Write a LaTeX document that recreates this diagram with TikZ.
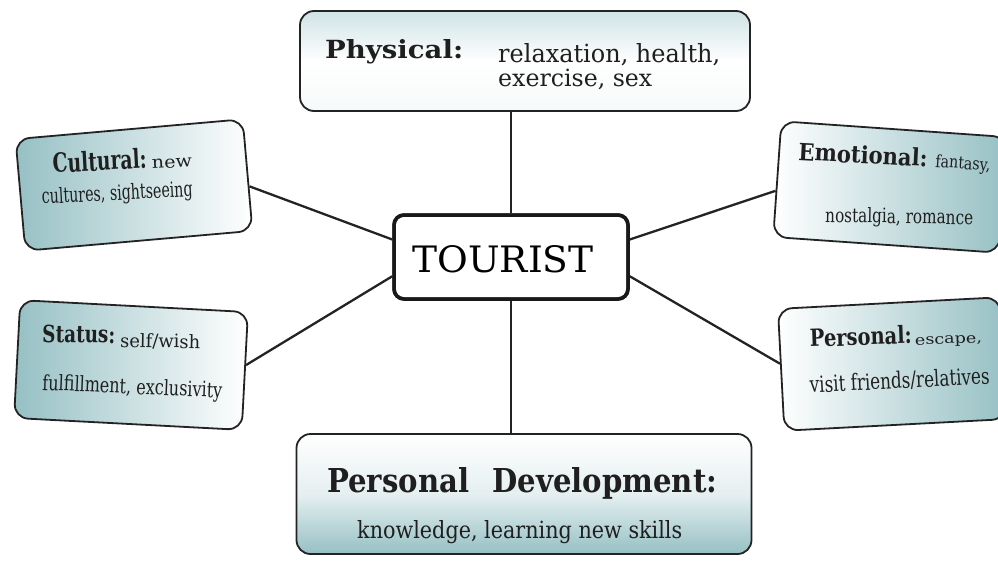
\documentclass[tikz,border=0pt]{standalone}
\usepackage{fontspec}
\setmainfont{DejaVu Serif}
\usetikzlibrary{calc}
\definecolor{tealsh}{RGB}{150,192,196}
\definecolor{edgec}{RGB}{35,35,35}
\newcommand{\fitw}[3]{\resizebox{#1pt}{#2pt}{\vphantom{l}#3}}
\begin{document}
\begin{tikzpicture}[x=1pt,y=-1pt,
  box/.style={draw=edgec, line width=1.8pt, rounded corners=14pt, inner sep=0pt},
  lbl/.style={anchor=base west, inner sep=0pt, text=black!88},
  link/.style={draw=edgec, line width=2.3pt}]
\useasboundingbox (0,0) rectangle (998,560);
% boxes
\node[box, minimum width=450pt, minimum height=100pt, top color=tealsh!45, bottom color=white!92!tealsh, middle color=white] (phys) at (525,61) {};
\node[box, minimum width=455pt, minimum height=120pt, top color=white, bottom color=tealsh, middle color=white!75!tealsh] (pd) at (524,494) {};
\node[box, minimum width=228pt, minimum height=112pt, rotate=5, left color=tealsh, right color=white] (cult) at (134,185) {};
\node[box, minimum width=228pt, minimum height=118pt, rotate=-3, left color=tealsh, right color=white] (stat) at (131,365) {};
\node[box, minimum width=226pt, minimum height=116pt, rotate=-4, left color=white, right color=tealsh] (emo) at (890,187) {};
\node[box, minimum width=222pt, minimum height=122pt, rotate=3, left color=white, right color=tealsh] (pers) at (892,364) {};
\node[draw=black!90, line width=3.5pt, rounded corners=10pt, fill=white, minimum width=234pt, minimum height=84pt, inner sep=0pt] (tour) at (511,257) {};
% connectors
\coordinate (tw1) at ($(tour.north west)!0.3!(tour.south west)$);
\coordinate (tw2) at ($(tour.north west)!0.72!(tour.south west)$);
\coordinate (te1) at ($(tour.north east)!0.3!(tour.south east)$);
\coordinate (te2) at ($(tour.north east)!0.72!(tour.south east)$);
\draw[link] (phys.south -| tour.north) -- (tour.north);
\draw[link] (tour.south) -- (tour.south |- pd.north);
\draw[link] ($(cult.north east)!0.6!(cult.south east)$) -- (tw1);
\draw[link] ($(stat.north east)!0.45!(stat.south east)$) -- (tw2);
\draw[link] ($(emo.north west)!0.6!(emo.south west)$) -- (te1);
\draw[link] ($(pers.north west)!0.45!(pers.south west)$) -- (te2);
\node[draw=black!90, line width=3.5pt, rounded corners=10pt, minimum width=234pt, minimum height=84pt, inner sep=0pt] (tourframe) at (tour.center) {};
% texts
\node[anchor=base, inner sep=0pt] (tourt) at (503,272) {\resizebox{181pt}{27pt}{TOURIST}};
\node[lbl] (physa) at (325,58) {\fitw{138}{19}{\textbf{Physical:}}};
\node[lbl] (physb) at (498,62) {\fitw{222}{19}{relaxation, health,}};
\node[lbl] (physc) at (498,86) {\fitw{154}{18}{exercise, sex}};
\node[lbl, rotate=3] (culta) at (53,173) {\fitw{94}{20}{\textbf{Cultural:}}};
\node[lbl, rotate=3] (cultb) at (152,169) {\fitw{40}{13}{new}};
\node[lbl, rotate=3] (cultc) at (42,204) {\fitw{151}{16}{cultures, sightseeing}};
\node[lbl, rotate=-1] (stata) at (42,342) {\fitw{73}{18}{\textbf{Status:}}};
\node[lbl, rotate=-1] (statb) at (120,347) {\fitw{80}{14}{self/wish}};
\node[lbl, rotate=-2.5] (statc) at (42,390) {\fitw{180}{16}{fulfillment, exclusivity}};
\node[lbl, rotate=-3] (emoa) at (798,160) {\fitw{129}{18}{\textbf{Emotional:}}};
\node[lbl, rotate=-4] (emob) at (935,167) {\fitw{55}{13}{fantasy,}};
\node[lbl, rotate=-1] (emoc) at (825,222) {\fitw{148}{15}{nostalgia, romance}};
\node[lbl, rotate=2] (persa) at (810,347) {\fitw{102}{18}{\textbf{Personal:}}};
\node[lbl, rotate=2] (persb) at (915,345) {\fitw{67}{11}{escape,}};
\node[lbl, rotate=3] (persc) at (810,393) {\fitw{180}{17}{visit friends/relatives}};
\node[lbl] (pda) at (327,492) {\fitw{390}{25}{\textbf{Personal\hspace{0.8em}Development:}}};
\node[lbl] (pdb) at (357,538) {\fitw{325}{18}{knowledge, learning new skills}};
\end{tikzpicture}
\end{document}
